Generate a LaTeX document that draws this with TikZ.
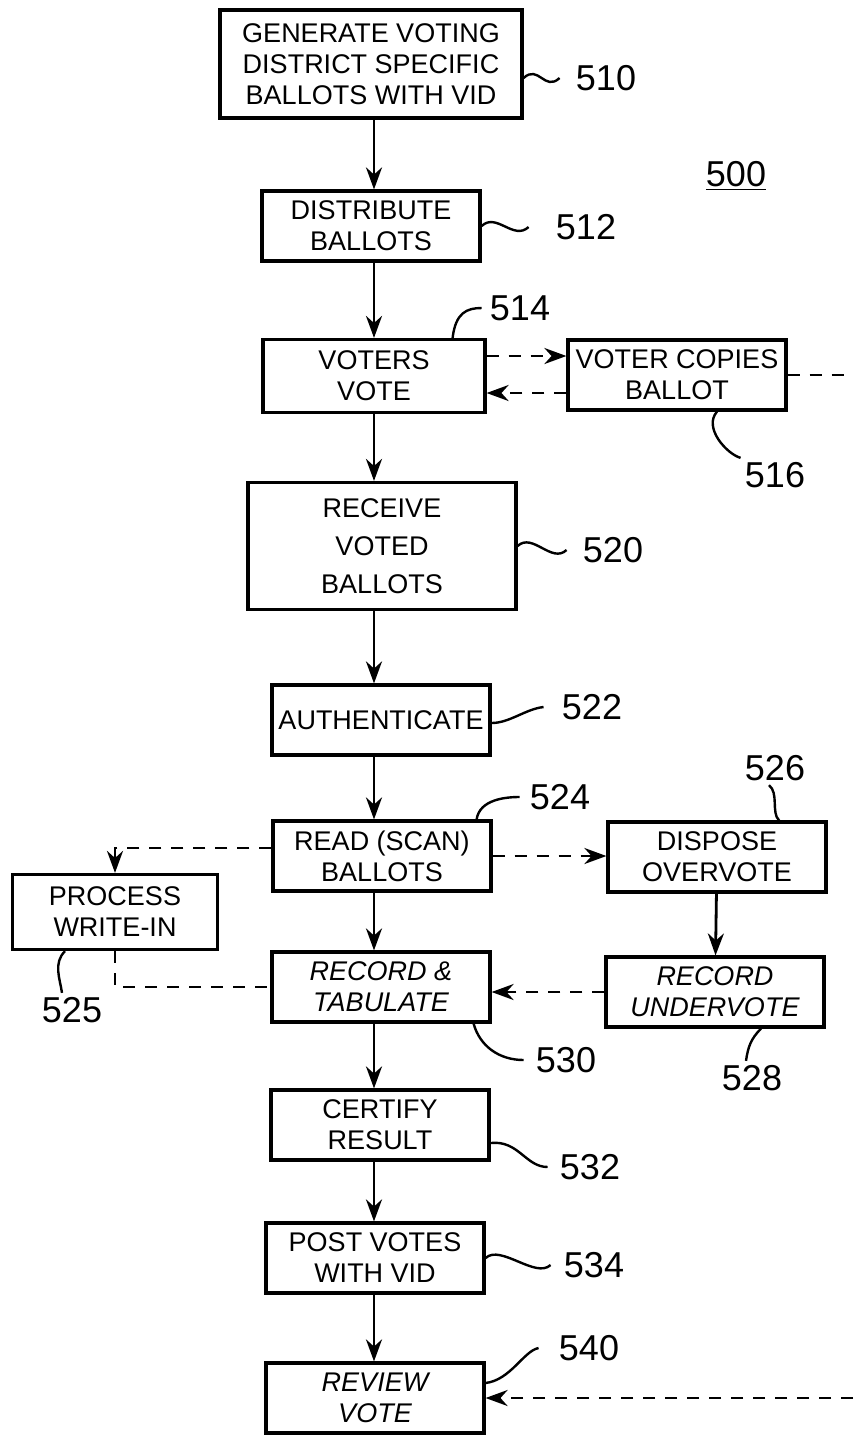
\documentclass[tikz,border=0pt]{standalone}
\usepackage{fontspec}
\setmainfont{Liberation Sans}
\usetikzlibrary{arrows.meta,calc,positioning}

\tikzset{
box/.style={draw,line width=1.6pt,rectangle,align=center,inner sep=2pt,
  minimum width=109pt,minimum height=35pt,font=\fontsize{13.5}{15.5}\selectfont},
reflabel/.style={inner sep=2pt,font=\fontsize{18}{20}\selectfont},
flow/.style={line width=1.4pt,-{Stealth[length=11pt,width=8pt]}},
dasharrow/.style={flow,dash pattern=on 6pt off 5pt},
dashline/.style={line width=1.4pt,dash pattern=on 6pt off 5pt},
lead/.style={line width=1.2pt}
}

\begin{document}
\begin{tikzpicture}[x=0.5pt,y=-0.5pt]
\useasboundingbox (0,0) rectangle (853,1437);
\coordinate (spine) at (374,0);
\coordinate (edge) at (853,0);

% main column
\node[box,minimum width=151pt,minimum height=54pt] (b510) at (371,64) {GENERATE VOTING\\DISTRICT SPECIFIC\\BALLOTS WITH VID};
\node[box] (b512) at (371,226) {DISTRIBUTE\\BALLOTS};
\node[box,minimum width=111pt,minimum height=36.5pt] (b514) at (374,376) {VOTERS\\VOTE};
\node[box,minimum width=134pt,minimum height=63.5pt] (b520) at (382,546) {RECEIVE\\[3.5pt]VOTED\\[3.5pt]BALLOTS};
\node[box] (b522) at (381,720) {AUTHENTICATE};
\node[box] (b524) at (382,856) {READ (SCAN)\\BALLOTS};
\node[box] (b530) at (381,987) {\itshape RECORD \&\\\itshape TABULATE};
\node[box] (b532) at (380,1125) {CERTIFY\\RESULT};
\node[box] (b534) at (375,1258) {POST VOTES\\WITH VID};
\node[box] (b540) at (375,1398) {\itshape REVIEW\\\itshape VOTE};
% side boxes
\node[box] (b516) at (677,375) {VOTER COPIES\\BALLOT};
\node[box,minimum width=102.5pt,minimum height=37.5pt] (b525) at (115,912) {PROCESS\\WRITE-IN};
\node[box] (b526) at (717,857) {DISPOSE\\OVERVOTE};
\node[box] (b528) at (715,992) {\itshape RECORD\\\itshape UNDERVOTE};

% reference numerals
\node[reflabel] (l500) at (736,176) {\underline{500}};
\node[reflabel] (l510) at (606,78) {510};
\node[reflabel] (l512) at (586,227) {512};
\node[reflabel] (l514) at (520,308) {514};
\node[reflabel] (l516) at (775,475) {516};
\node[reflabel] (l520) at (613,550) {520};
\node[reflabel] (l522) at (592,707) {522};
\node[reflabel] (l524) at (560,797) {524};
\node[reflabel] (l526) at (775,768) {526};
\node[reflabel] (l525) at (72,1010) {525};
\node[reflabel] (l528) at (752,1078) {528};
\node[reflabel] (l530) at (566,1060) {530};
\node[reflabel] (l532) at (590,1167) {532};
\node[reflabel] (l534) at (594,1265) {534};
\node[reflabel] (l540) at (589,1348) {540};

% flow down the column
\draw[flow] (b510.south -| spine) -- (b512.north -| spine);
\draw[flow] (b512.south -| spine) -- (b514.north -| spine);
\draw[flow] (b514.south -| spine) -- (b520.north -| spine);
\draw[flow] (b520.south -| spine) -- (b522.north -| spine);
\draw[flow] (b522.south -| spine) -- (b524.north -| spine);
\draw[flow] (b524.south -| spine) -- (b530.north -| spine);
\draw[flow] (b530.south -| spine) -- (b532.north -| spine);
\draw[flow] (b532.south -| spine) -- (b534.north -| spine);
\draw[flow] (b534.south -| spine) -- (b540.north -| spine);
\draw[flow] (b526) -- (b528);

% dashed branches
\coordinate (c514a) at ([yshift=10pt]b514.east);
\coordinate (c514b) at ([yshift=-8.5pt]b514.east);
\draw[dasharrow] (c514a) -- (c514a -| b516.west);
\draw[dasharrow] (c514b -| b516.west) -- (c514b);
\draw[dashline] (b516.east) -- (b516.east -| edge);
\draw[dasharrow] (b540.east -| edge) -- (b540.east);
\draw[dasharrow] ([yshift=4pt]b524.west) -| (b525.north);
\draw[dasharrow] (b524.east) -- (b524.east -| b526.west);
\draw[dasharrow] (b528.west) -- (b528.west -| b530.east);
\draw[dashline] (b525.south) |- (b530.west);

% leaders
\draw[lead] ([yshift=-7pt]b510.east) .. controls +(15,-14) and +(-15,14) .. ([xshift=-6pt]l510.west);
\draw[lead] (b512.east) .. controls +(15,-14) and +(-15,14) .. ([xshift=-11.5pt]l512.west);
\draw[lead] ([xshift=-17pt]b514.north east) .. controls +(3,-25) and +(-15,0) .. ([xshift=-2pt]l514.west);
\draw[lead] ([xshift=20pt]b516.south) .. controls +(-14,16) and +(-14,-4) .. (l516.north west);
\draw[lead] (b520.east) .. controls +(15,-14) and +(-15,14) .. ([xshift=-6pt]l520.west);
\draw[lead] ([yshift=-1.5pt]b522.east) .. controls +(18,0) and +(-18,2) .. ([xshift=-7pt]l522.west);
\draw[lead] ([xshift=-8pt]b524.north east) .. controls +(3,-20) and +(-14,0) .. ([xshift=-3pt]l524.west);
\draw[lead] ([xshift=31pt]b526.north) .. controls +(-8,-8) and +(10,8) .. ([xshift=-3pt]l526.south);
\draw[lead] ([xshift=-25pt]b525.south) .. controls +(-12,12) and +(-2,-14) .. ([xshift=-5pt]l525.north);
\draw[lead] ([xshift=23pt]b528.south) .. controls +(-10,10) and +(2,-14) .. ([xshift=-3pt]l528.north);
\draw[lead] ([xshift=-9pt]b530.south east) .. controls +(6,22) and +(-25,0) .. ([xshift=-4pt]l530.west);
\draw[lead] ([yshift=-9pt]b532.east) .. controls +(28,-3) and +(-22,0) .. ([xshift=-4pt]l532.west);
\draw[lead] (b534.east) .. controls +(15,-14) and +(-15,14) .. ([xshift=-4.5pt]l534.west);
\draw[lead] ([yshift=7.5pt]b540.east) .. controls +(25,-3) and +(-15,3) .. ([xshift=-8pt]l540.west);
\end{tikzpicture}
\end{document}
